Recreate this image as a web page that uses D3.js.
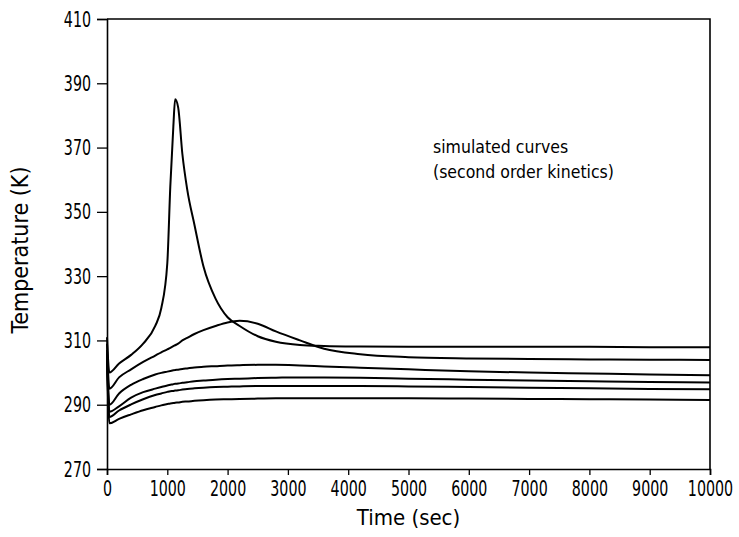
<!DOCTYPE html>
<html>
<head>
<meta charset="utf-8">
<script src="https://cdn.jsdelivr.net/npm/d3@7"></script>
<style>
  body { margin: 0; background: #fff; }
  svg text { font-family: "DejaVu Sans Condensed", "DejaVu Sans", sans-serif; fill: #000; }
</style>
</head>
<body>
<svg id="chart" width="739" height="537"></svg>
<script>
// time axis (sec), shared by all six simulated curves
const times = [0, 40, 200, 400, 600, 800, 900, 1000, 1050, 1100, 1130, 1180, 1250, 1330, 1450,
  1600, 1800, 2000, 2200, 2500, 2800, 3200, 3600, 4200, 5000, 6000, 7000, 8000, 9000, 10000];

// temperatures (K)
const curveA = [311, 300, 302.8, 305.5, 309, 314.5, 320, 334, 358, 376.5, 385, 382.5, 368, 357, 346,
  333, 323, 317.2, 314.5, 311.3, 309.6, 308.6, 308.3, 308.1, 308.0, 308.0, 308.0, 308.0, 307.9, 307.9];
const curveB = [309, 295, 298.5, 301, 303.3, 305.3, 306.3, 307.2, 307.7, 308.2, 308.5, 309, 310, 310.8, 312,
  313.2, 314.5, 315.6, 316.1, 315.2, 312.8, 310, 307.4, 305.7, 304.8, 304.4, 304.2, 304.1, 304.0, 303.9];
const curveC = [307, 290, 293.5, 296.2, 298.0, 299.4, 299.9, 300.3, 300.5, 300.7, 300.8, 300.9, 301.1, 301.3, 301.6,
  301.8, 302.0, 302.2, 302.3, 302.4, 302.4, 302.2, 301.9, 301.5, 301.0, 300.4, 300.0, 299.7, 299.4, 299.2];
const curveD = [306, 287.8, 289.5, 292.2, 293.9, 295.0, 295.5, 296.0, 296.2, 296.4, 296.5, 296.6, 296.8, 297.0, 297.3,
  297.5, 297.8, 298.0, 298.1, 298.3, 298.4, 298.5, 298.5, 298.4, 298.1, 297.8, 297.5, 297.3, 297.1, 296.9];
const curveE = [305, 286.2, 288.2, 290.1, 291.7, 293.0, 293.5, 294.0, 294.2, 294.3, 294.4, 294.5, 294.7, 294.9, 295.1,
  295.3, 295.5, 295.6, 295.7, 295.8, 295.8, 295.8, 295.8, 295.8, 295.7, 295.5, 295.3, 295.1, 294.9, 294.8];
const curveF = [304, 284.2, 285.6, 287.0, 288.3, 289.3, 289.8, 290.2, 290.4, 290.5, 290.6, 290.7, 290.9, 291.0, 291.2,
  291.4, 291.6, 291.7, 291.8, 291.9, 292.0, 292.0, 292.0, 292.0, 292.0, 291.9, 291.8, 291.7, 291.6, 291.5];

const xTicks = [0, 1000, 2000, 3000, 4000, 5000, 6000, 7000, 8000, 9000, 10000];
const yTicks = [270, 290, 310, 330, 350, 370, 390, 410];
const notes = ["simulated curves", "(second order kinetics)"];

const margin = {top: 19, right: 29, bottom: 68, left: 107};
const width = 739 - margin.left - margin.right;
const height = 537 - margin.top - margin.bottom;
const squeeze = 0.72; // narrow plotter-style digits

const svg = d3.select("#chart");
const g = svg.append("g").attr("transform", `translate(${margin.left},${margin.top})`);

const x = d3.scaleLinear().domain([0, 10000]).range([0, width]);
const y = d3.scaleLinear().domain([270, 410]).range([height, 0]);

// frame (top and right sides)
g.append("path")
  .attr("d", `M0,${y(410)}H${x(10000)}V${y(270)}`)
  .attr("fill", "none").attr("stroke", "#000").attr("stroke-width", 1.6);

const xAxis = g.append("g")
  .attr("transform", `translate(0,${height})`)
  .call(d3.axisBottom(x).tickValues(xTicks).tickSize(6).tickPadding(5).tickFormat(d3.format("d")));
const yAxis = g.append("g")
  .call(d3.axisLeft(y).tickValues(yTicks).tickSize(10).tickPadding(6).tickFormat(d3.format("d")));

[xAxis, yAxis].forEach(a => {
  a.select(".domain").attr("stroke", "#000").attr("stroke-width", 1.6);
  a.selectAll(".tick line").attr("stroke", "#000").attr("stroke-width", 1.3);
  a.selectAll("text").attr("font-size", 22).attr("font-family", null)
    .attr("transform", `scale(${squeeze},1)`);
});
yAxis.selectAll("text").attr("x", -16 / squeeze);

const line = d3.line()
  .x((d, i) => x(times[i]))
  .y(d => y(d))
  .curve(d3.curveMonotoneX);

g.selectAll(".curve")
  .data([curveA, curveB, curveC, curveD, curveE, curveF])
  .join("path")
  .attr("class", "curve")
  .attr("d", line)
  .attr("fill", "none")
  .attr("stroke", "#000")
  .attr("stroke-width", 2);

// annotation
g.selectAll(".note")
  .data(notes)
  .join("text")
  .attr("class", "note")
  .attr("x", 326)
  .attr("y", (d, i) => 134 + i * 25)
  .attr("font-size", 17.5)
  .text(d => d);

svg.append("text")
  .attr("x", margin.left + x(5000))
  .attr("y", 525)
  .attr("text-anchor", "middle")
  .attr("font-size", 22)
  .text("Time (sec)");

svg.append("text")
  .attr("transform", "translate(28,250) rotate(-90)")
  .attr("text-anchor", "middle")
  .attr("font-size", 23)
  .text("Temperature (K)");
</script>
</body>
</html>
